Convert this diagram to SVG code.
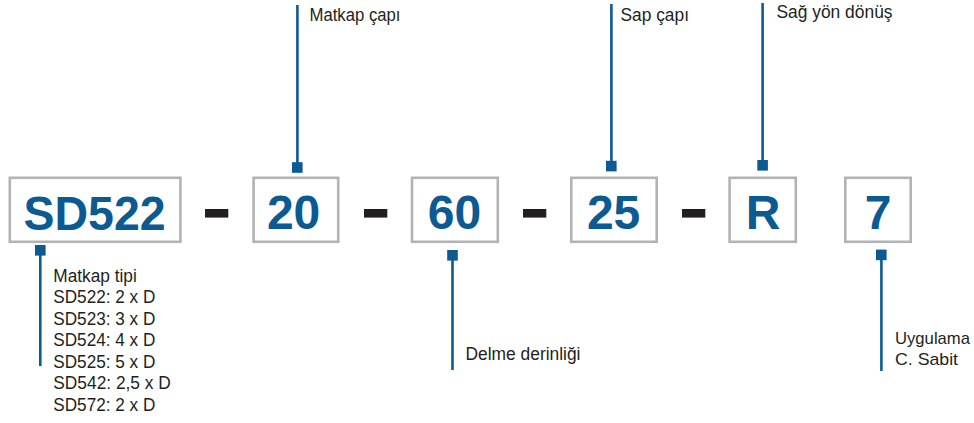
<svg xmlns="http://www.w3.org/2000/svg" width="974" height="423" viewBox="0 0 974 423">
<style>
.box{fill:#fff;stroke:#b1b3b6;stroke-width:2.6}
.code{font-family:"Liberation Sans",Arial,sans-serif;font-weight:bold;font-size:48px;fill:#0b5a92;text-anchor:middle}
.lbl{font-family:"Liberation Sans",Arial,sans-serif;font-size:18.3px;fill:#231f20}
.sm{font-size:17px}
.dash{fill:#231f20}
.ln{stroke:#0b5a92;stroke-width:2.6;fill:none}
.sq{fill:#0b5a92}
</style>
<rect width="974" height="423" fill="#fff"/>
<g id="connectors">
  <line class="ln" x1="40.3" y1="255" x2="40.3" y2="366"/>
  <rect class="sq" x="35" y="245" width="10.6" height="10.6"/>
  <line class="ln" x1="297.4" y1="5" x2="297.4" y2="163"/>
  <rect class="sq" x="292" y="162.2" width="10.6" height="10.6"/>
  <line class="ln" x1="452.5" y1="260" x2="452.5" y2="370"/>
  <rect class="sq" x="447.2" y="250" width="10.6" height="10.6"/>
  <line class="ln" x1="611.4" y1="4" x2="611.4" y2="161"/>
  <rect class="sq" x="606" y="160.8" width="10.6" height="10.6"/>
  <line class="ln" x1="762.6" y1="3" x2="762.6" y2="160.5"/>
  <rect class="sq" x="757.3" y="160" width="10.6" height="10.6"/>
  <line class="ln" x1="881.4" y1="259" x2="881.4" y2="371"/>
  <rect class="sq" x="876" y="249.6" width="10.6" height="10.6"/>
</g>
<g id="dashes">
  <rect class="dash" x="205" y="209" width="23.3" height="8.6"/>
  <rect class="dash" x="364" y="209" width="23.3" height="8.6"/>
  <rect class="dash" x="523" y="209" width="23.3" height="8.6"/>
  <rect class="dash" x="682" y="209" width="23.3" height="8.6"/>
</g>
<g id="n-sd522">
  <rect class="box" x="9.8" y="177.8" width="170.6" height="64"/>
  <text class="code" x="94.6" y="229.5" textLength="142" lengthAdjust="spacingAndGlyphs">SD522</text>
</g>
<g id="n-20">
  <rect class="box" x="253.6" y="177.8" width="84.6" height="64"/>
  <text class="code" x="293.6" y="229">20</text>
</g>
<g id="n-60">
  <rect class="box" x="412" y="177.8" width="85.8" height="64"/>
  <text class="code" x="454.4" y="229">60</text>
</g>
<g id="n-25">
  <rect class="box" x="571.3" y="177.8" width="85.4" height="64"/>
  <text class="code" x="613.6" y="229">25</text>
</g>
<g id="n-r">
  <rect class="box" x="729.6" y="177.8" width="66.2" height="64"/>
  <text class="code" x="763" y="229">R</text>
</g>
<g id="n-7">
  <rect class="box" x="845.3" y="177.8" width="65.4" height="64"/>
  <text class="code" x="878" y="229">7</text>
</g>
<g id="labels">
  <text class="lbl" x="309.5" y="20.7" textLength="91" lengthAdjust="spacingAndGlyphs">Matkap çapı</text>
  <text class="lbl" x="620.5" y="20.7" textLength="68.5" lengthAdjust="spacingAndGlyphs">Sap çapı</text>
  <text class="lbl" x="776.5" y="17.5" textLength="116" lengthAdjust="spacingAndGlyphs">Sağ yön dönüş</text>
  <text class="lbl" x="465.5" y="360" textLength="115" lengthAdjust="spacingAndGlyphs">Delme derinliği</text>
  <text class="lbl sm" x="895" y="343.5" textLength="75" lengthAdjust="spacingAndGlyphs">Uygulama</text>
  <text class="lbl sm" x="895" y="364.5" textLength="63" lengthAdjust="spacingAndGlyphs">C. Sabit</text>
  <text class="lbl" x="53.3" y="281.7" textLength="83.5" lengthAdjust="spacingAndGlyphs">Matkap tipi</text>
  <text class="lbl" x="53.3" y="303.2" textLength="102" lengthAdjust="spacingAndGlyphs">SD522: 2 x D</text>
  <text class="lbl" x="53.3" y="324.7" textLength="102" lengthAdjust="spacingAndGlyphs">SD523: 3 x D</text>
  <text class="lbl" x="53.3" y="346.2" textLength="102" lengthAdjust="spacingAndGlyphs">SD524: 4 x D</text>
  <text class="lbl" x="53.3" y="367.7" textLength="102" lengthAdjust="spacingAndGlyphs">SD525: 5 x D</text>
  <text class="lbl" x="53.3" y="389.2" textLength="117.5" lengthAdjust="spacingAndGlyphs">SD542: 2,5 x D</text>
  <text class="lbl" x="53.3" y="410.7" textLength="102" lengthAdjust="spacingAndGlyphs">SD572: 2 x D</text>
</g>
</svg>
